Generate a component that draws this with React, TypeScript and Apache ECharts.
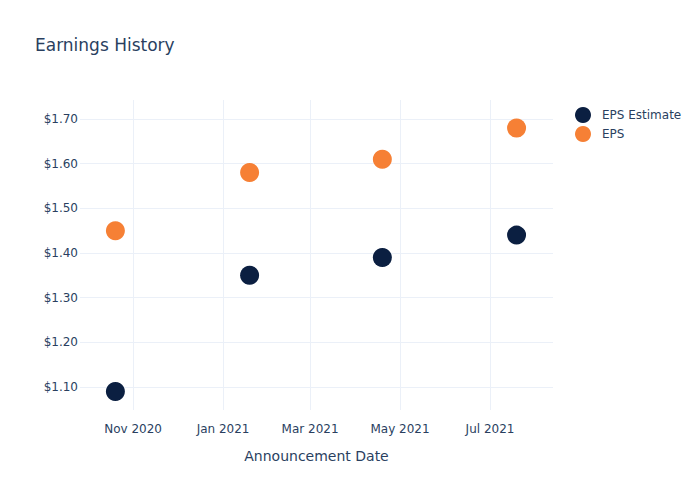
import React, { useEffect, useRef } from "react";
import * as echarts from "echarts";

const announcementDates = ["2020-10-20", "2021-01-19", "2021-04-19", "2021-07-19"];
const epsEstimate = [1.09, 1.35, 1.39, 1.44];
const epsActual = [1.45, 1.58, 1.61, 1.68];
const xTickDates = ["2020-11-01", "2021-01-01", "2021-03-01", "2021-05-01", "2021-07-01"];
const yTickValues = [1.1, 1.2, 1.3, 1.4, 1.5, 1.6, 1.7];
const xRange = ["2020-09-26T00:00:00", "2021-08-12T17:00:00"];
const yRange = [1.0485, 1.7425];

const MONTHS = ["Jan", "Feb", "Mar", "Apr", "May", "Jun", "Jul", "Aug", "Sep", "Oct", "Nov", "Dec"];
const toTs = (s: string) => {
  const [datePart, timePart] = s.split("T");
  const [y, m, d] = datePart.split("-").map(Number);
  let h = 0;
  if (timePart) h = Number(timePart.split(":")[0]);
  return Date.UTC(y, m - 1, d, h);
};

const TEXT = "#2a3f5f";
const GRID = "#ebf0f8";
const FONT = "DejaVu Sans, Verdana, sans-serif";

export default function App() {
  const ref = useRef<HTMLDivElement>(null);
  useEffect(() => {
    if (!ref.current) return;
    const chart = echarts.init(ref.current, undefined, { renderer: "svg" });
    const xTicks = xTickDates.map(toTs);
    chart.setOption({
      animation: false,
      backgroundColor: "#ffffff",
      textStyle: { fontFamily: FONT },
      title: {
        text: "Earnings History",
        left: 30,
        top: 31,
        textStyle: { fontFamily: FONT, fontSize: 17, fontWeight: "normal", color: TEXT },
      },
      legend: {
        orient: "vertical",
        left: 570,
        top: 102,
        itemWidth: 16,
        itemHeight: 16,
        itemGap: 3,
        icon: "circle",
        textStyle: { fontFamily: FONT, fontSize: 12, color: TEXT, padding: [0, 0, 0, 6] },
        data: ["EPS Estimate", "EPS"],
      },
      grid: { left: 80, right: 147, top: 100, bottom: 90, containLabel: false },
      xAxis: {
        type: "value",
        min: toTs(xRange[0]),
        max: toTs(xRange[1]),
        name: "Announcement Date",
        nameLocation: "middle",
        nameGap: 39,
        nameTextStyle: { fontFamily: FONT, fontSize: 14, color: TEXT },
        axisLine: { show: false },
        axisTick: { show: false, customValues: xTicks },
        axisLabel: {
          customValues: xTicks,
          color: TEXT,
          fontFamily: FONT,
          fontSize: 12,
          margin: 13,
          formatter: (v: number) => {
            const d = new Date(v);
            return MONTHS[d.getUTCMonth()] + " " + d.getUTCFullYear();
          },
        },
        splitLine: { show: false },
      },
      yAxis: {
        type: "value",
        min: yRange[0],
        max: yRange[1],
        axisLine: { show: false },
        axisTick: { show: false, customValues: yTickValues },
        axisLabel: {
          customValues: yTickValues,
          color: TEXT,
          fontFamily: FONT,
          fontSize: 12,
          margin: 2,
          formatter: (v: number) => "$" + v.toFixed(2),
        },
        splitLine: { show: false },
      },
      series: [
        {
          name: "grid",
          type: "line",
          data: [],
          silent: true,
          z: 0,
          markLine: {
            silent: true,
            symbol: "none",
            z: 0,
            label: { show: false },
            lineStyle: { color: GRID, width: 1, type: "solid" },
            data: [
              ...xTicks.map((t) => ({ xAxis: t })),
              ...yTickValues.map((v) => ({ yAxis: v })),
            ],
          },
        },
        {
          name: "EPS Estimate",
          type: "scatter",
          symbol: "circle",
          symbolSize: 19,
          z: 10,
          zlevel: 1,
          itemStyle: { color: "#0b1f41", opacity: 1 },
          data: announcementDates.map((d, i) => [toTs(d), epsEstimate[i]]),
        },
        {
          name: "EPS",
          type: "scatter",
          symbol: "circle",
          symbolSize: 19,
          z: 10,
          zlevel: 1,
          itemStyle: { color: "#f68035", opacity: 1 },
          data: announcementDates.map((d, i) => [toTs(d), epsActual[i]]),
        },
      ],
    });
    return () => chart.dispose();
  }, []);
  return <div ref={ref} style={{ width: 700, height: 500, position: "absolute", left: 0, top: 0 }} />;
}
